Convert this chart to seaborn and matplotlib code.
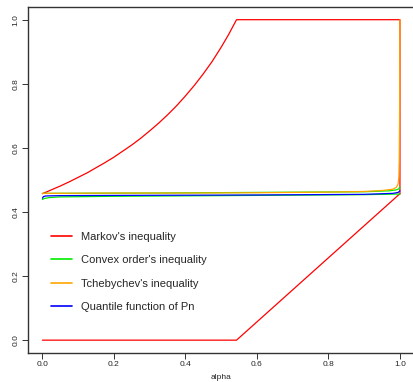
import matplotlib
matplotlib.use("Agg")
import matplotlib.pyplot as plt
import seaborn as sns
from matplotlib.lines import Line2D

sns.set_style("white")
plt.rcParams['font.family'] = ['Liberation Sans', 'DejaVu Sans']

# Markov's inequality: upper and lower bounds
markov_up_alpha = [0.0, 0.025, 0.05, 0.075, 0.1, 0.125, 0.15, 0.175, 0.2, 0.225, 0.25, 0.275,
                   0.3, 0.325, 0.35, 0.375, 0.4, 0.425, 0.45, 0.475, 0.5, 0.52, 0.543, 1.0, 1.0]
markov_up_val = [0.457, 0.469, 0.481, 0.494, 0.508, 0.522, 0.538, 0.554, 0.571, 0.590, 0.609, 0.630,
                 0.653, 0.677, 0.703, 0.731, 0.762, 0.795, 0.831, 0.870, 0.914, 0.952, 1.0, 1.0, 0.457]
markov_lo_alpha = [0.0, 0.543, 1.0]
markov_lo_val = [0.0, 0.0, 0.457]

# Convex order's inequality: upper and lower bounds
convex_up_alpha = [0.0, 0.3, 0.6, 0.9, 0.97, 0.99, 0.997, 1.0]
convex_up_val = [0.458, 0.459, 0.461, 0.463, 0.466, 0.469, 0.472, 0.478]
convex_lo_alpha = [0.0, 0.005, 0.02, 0.05, 0.2, 0.5, 0.9, 1.0]
convex_lo_val = [0.439, 0.442, 0.445, 0.447, 0.449, 0.451, 0.454, 0.456]

# Tchebychev's inequality
tcheb_alpha = [0.0, 0.2, 0.4, 0.6, 0.8, 0.9, 0.95, 0.98, 0.99, 0.995, 0.997, 0.998, 0.999, 0.9995, 1.0]
tcheb_val = [0.458, 0.459, 0.459, 0.460, 0.462, 0.464, 0.467, 0.471, 0.477, 0.488, 0.51, 0.56, 0.7, 0.9, 1.0]

# Quantile function of Pn
quant_alpha = [0.0, 0.003, 0.01, 0.05, 0.3, 0.6, 0.9, 0.98, 0.995, 1.0]
quant_val = [0.443, 0.448, 0.450, 0.451, 0.452, 0.453, 0.455, 0.458, 0.461, 0.466]

x_ticks = [0.0, 0.2, 0.4, 0.6, 0.8, 1.0]
y_ticks = [0.0, 0.2, 0.4, 0.6, 0.8, 1.0]
tick_labels = ["0.0", "0.2", "0.4", "0.6", "0.8", "1.0"]

fig = plt.figure(figsize=(4.13, 3.82), dpi=100)
ax = fig.add_axes([0.068, 0.076, 0.935, 0.906])

lw = 0.9
kw = dict(ax=ax, estimator=None, sort=False, linewidth=lw)
sns.lineplot(x=markov_up_alpha, y=markov_up_val, color="red", **kw)
sns.lineplot(x=markov_lo_alpha, y=markov_lo_val, color="red", **kw)
sns.lineplot(x=convex_up_alpha, y=convex_up_val, color="#00ee00", **kw)
sns.lineplot(x=convex_lo_alpha, y=convex_lo_val, color="#00ee00", **kw)
sns.lineplot(x=tcheb_alpha, y=tcheb_val, color="orange", **kw)
sns.lineplot(x=quant_alpha, y=quant_val, color="blue", **kw)

ax.set_xlim(-0.04, 1.04)
ax.set_ylim(-0.04, 1.04)
ax.set_xticks(x_ticks)
ax.set_xticklabels(tick_labels, fontsize=6)
ax.set_yticks(y_ticks)
ax.set_yticklabels(tick_labels, fontsize=6, rotation=90, va="center")
ax.tick_params(axis="both", direction="out", length=4, width=0.7, color="#333333",
               bottom=True, left=True, pad=2)
ax.set_xlabel("alpha", fontsize=6, labelpad=4)
for s in ax.spines.values():
    s.set_color("#333333")
    s.set_linewidth(1.0)

handles = [Line2D([], [], color=c, lw=1.2) for c in ["red", "#00ee00", "orange", "blue"]]
labels = ["Markov's inequality", "Convex order's inequality",
          "Tchebychev's inequality", "Quantile function of Pn"]
ax.legend(handles, labels, loc="upper left", bbox_to_anchor=(0.06, 0.35),
          frameon=False, fontsize=8, handlelength=1.9, handletextpad=0.8,
          labelspacing=1.2, borderpad=0, borderaxespad=0)

fig.savefig("out.png", dpi=100)
